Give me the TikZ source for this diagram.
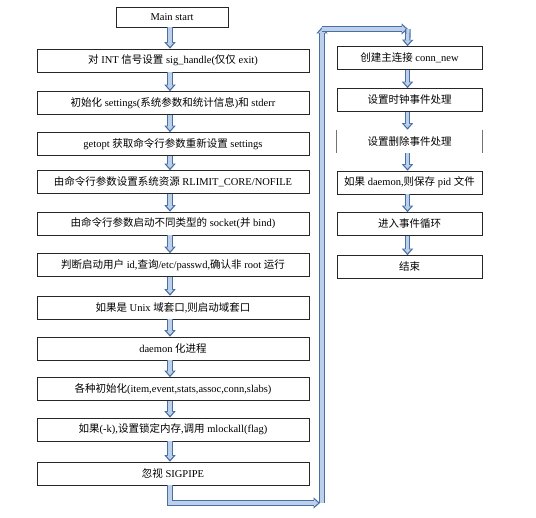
\documentclass[tikz,border=0pt]{standalone}
\usepackage{fontspec}
\setmainfont{Liberation Serif}
\newfontfamily\cjk{Noto Sans CJK SC}
\usetikzlibrary{arrows.meta}
\definecolor{adark}{HTML}{4A6FA5}
\definecolor{alight}{HTML}{BCD0EA}
\tikzset{
  box/.style={draw=black!85, line width=0.6pt, minimum height=23pt, inner sep=0pt, font=\fontsize{10.5}{12}\selectfont},
  lbox/.style={box, minimum width=272pt},
  rbox/.style={box, minimum width=145pt},
  arrowout/.style={draw=adark, line width=5.5pt, line join=miter, -{Triangle[width=11pt,length=6.5pt]}},
  arrowin/.style={draw=alight, line width=3.2pt, line join=miter, shorten >=1.9pt, -{Triangle[width=6.6pt,length=3.9pt]}},
}
\newcommand\barrow[1]{\draw[arrowout] #1; \draw[arrowin] #1;}
\begin{document}
\begin{tikzpicture}[x=1pt,y=-1pt]
\useasboundingbox[fill=white] (0,0) rectangle (536,518);
% left column
\node[box, minimum width=112pt, minimum height=20pt] (m) at (172,17) {Main start};
\node[lbox] (l1) at (173,60.5) {{\cjk 对} INT {\cjk 信号设置} sig\_handle({\cjk 仅仅} exit)};
\node[lbox] (l2) at (173,103) {{\cjk 初始化} settings({\cjk 系统参数和统计信息}){\cjk 和} stderr};
\node[lbox] (l3) at (173,144) {getopt {\cjk 获取命令行参数重新设置} settings};
\node[lbox] (l4) at (173,182) {{\cjk 由命令行参数设置系统资源} RLIMIT\_CORE/NOFILE};
\node[lbox] (l5) at (173,223.5) {{\cjk 由命令行参数启动不同类型的} socket({\cjk 并} bind)};
\node[lbox] (l6) at (173,265) {{\cjk 判断启动用户} id,{\cjk 查询}/etc/passwd,{\cjk 确认非} root {\cjk 运行}};
\node[lbox] (l7) at (173,307.5) {{\cjk 如果是} Unix {\cjk 域套口},{\cjk 则启动域套口}};
\node[lbox] (l8) at (173,348.5) {daemon {\cjk 化进程}};
\node[lbox] (l9) at (173,389) {{\cjk 各种初始化}(item,event,stats,assoc,conn,slabs)};
\node[lbox] (l10) at (173,429.5) {{\cjk 如果}(-k),{\cjk 设置锁定内存},{\cjk 调用} mlockall(flag)};
\node[lbox] (l11) at (173,473.5) {{\cjk 忽视} SIGPIPE};
% right column
\node[rbox] (r1) at (409.5,58) {{\cjk 创建主连接} conn\_new};
\node[rbox] (r2) at (409.5,100) {{\cjk 设置时钟事件处理}};
\node[rbox, draw=none] (r3) at (409.5,141.5) {{\cjk 设置删除事件处理}};
\draw[black!55, line width=0.8pt] (r3.north west) -- (r3.south west) (r3.north east) -- (r3.south east);
\node[rbox] (r4) at (409.5,182.5) {{\cjk 如果} daemon,{\cjk 则保存} pid {\cjk 文件}};
\node[rbox] (r5) at (409.5,224) {{\cjk 进入事件循环}};
\node[rbox] (r6) at (409.5,267) {{\cjk 结束}};
% connector coordinates
\coordinate (c1) at (320,503);
\coordinate (c2) at (322,503);
\coordinate (c3) at (322,27);
\coordinate (c4) at (322,29);
\coordinate (c5) at (408,29);
% left arrows
\barrow{([xshift=-2pt]m.south) -- ([xshift=-3pt]l1.north)}
\barrow{([xshift=-3pt]l1.south) -- ([xshift=-3pt]l2.north)}
\barrow{([xshift=-3pt]l2.south) -- ([xshift=-3pt]l3.north)}
\barrow{([xshift=-3pt]l3.south) -- ([xshift=-3pt]l4.north)}
\barrow{([xshift=-3pt]l4.south) -- ([xshift=-3pt]l5.north)}
\barrow{([xshift=-3pt]l5.south) -- ([xshift=-3pt]l6.north)}
\barrow{([xshift=-3pt]l6.south) -- ([xshift=-3pt]l7.north)}
\barrow{([xshift=-3pt]l7.south) -- ([xshift=-3pt]l8.north)}
\barrow{([xshift=-3pt]l8.south) -- ([xshift=-3pt]l9.north)}
\barrow{([xshift=-3pt]l9.south) -- ([xshift=-3pt]l10.north)}
\barrow{([xshift=-3pt]l10.south) -- ([xshift=-3pt]l11.north)}
% loop-over connector
\barrow{([xshift=-3pt]l11.south) |- (c1)}
\barrow{(c2) -- (c3)}
\barrow{(c4) -- (c5)}
\barrow{(c5) -- ([xshift=-2pt]r1.north)}
% right arrows
\barrow{([xshift=-2pt]r1.south) -- ([xshift=-2pt]r2.north)}
\barrow{([xshift=-2pt]r2.south) -- ([xshift=-2pt]r3.north)}
\barrow{([xshift=-2pt]r3.south) -- ([xshift=-2pt]r4.north)}
\barrow{([xshift=-2pt]r4.south) -- ([xshift=-2pt]r5.north)}
\barrow{([xshift=-2pt]r5.south) -- ([xshift=-2pt]r6.north)}
\end{tikzpicture}
\end{document}
